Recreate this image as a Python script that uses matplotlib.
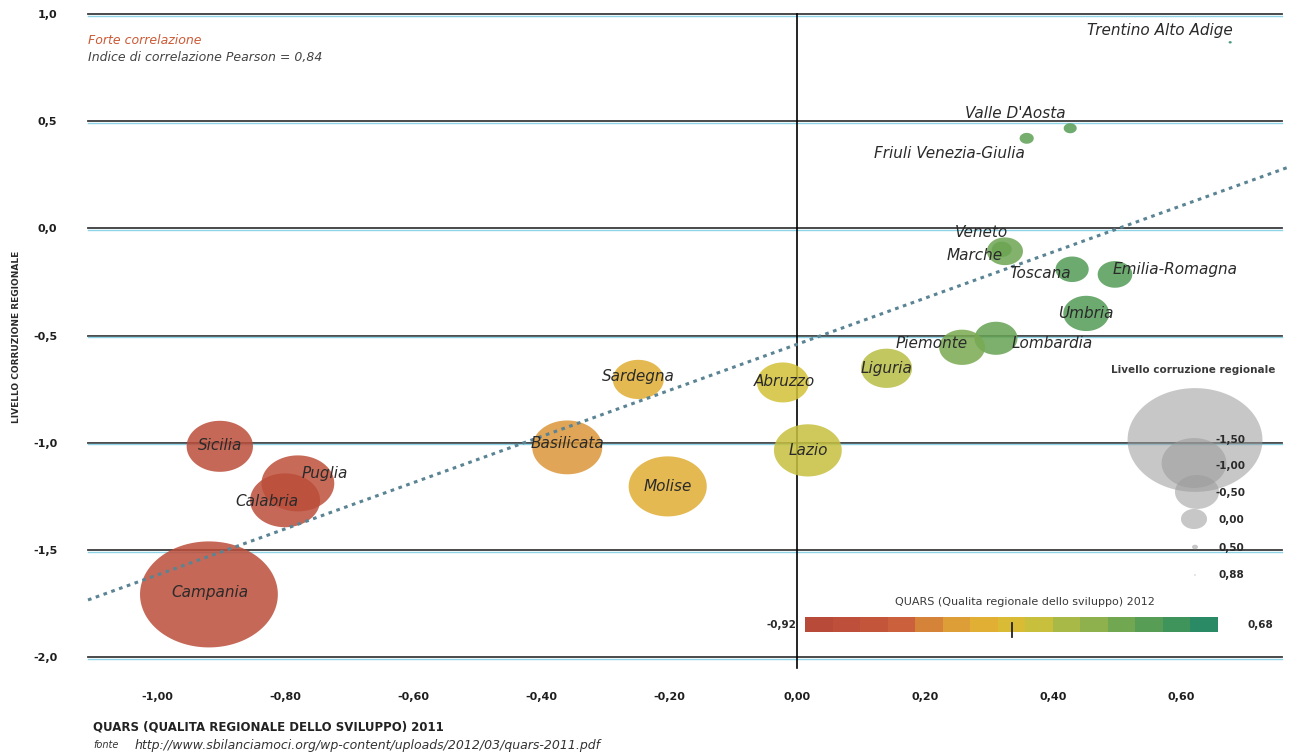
import numpy as np
import matplotlib
matplotlib.use("Agg")
import matplotlib.pyplot as plt
from matplotlib.path import Path
from matplotlib.colors import LinearSegmentedColormap, Normalize
import matplotlib.colorbar as mcolorbar

# ---------------- data ----------------
regioni = ["Trentino Alto Adige", "Valle D'Aosta", "Friuli Venezia-Giulia", "Veneto",
           "Marche", "Toscana", "Emilia-Romagna", "Umbria", "Lombardia", "Piemonte",
           "Liguria", "Abruzzo", "Lazio", "Sardegna", "Basilicata", "Molise",
           "Sicilia", "Puglia", "Calabria", "Campania"]
quars_2011 = [0.677, 0.427, 0.359, 0.32, 0.325, 0.43, 0.497, 0.452, 0.311, 0.258,
              0.14, -0.022, 0.017, -0.248, -0.359, -0.202, -0.902, -0.78, -0.80, -0.919]
corruzione = [0.868, 0.467, 0.42, -0.098, -0.107, -0.191, -0.215, -0.397, -0.513, -0.555,
              -0.653, -0.719, -1.036, -0.705, -1.022, -1.204, -1.017, -1.19, -1.269, -1.708]
dimensione = [0.1, 1.7, 2.0, 4.0, 13.0, 11.0, 12.0, 21.0, 18.5, 21.0,
              26.0, 27.0, 46.0, 26.0, 49.0, 61.0, 44.0, 53.0, 49.0, 190.0]
quars_2012 = [0.68, 0.45, 0.42, 0.38, 0.36, 0.47, 0.47, 0.47, 0.38, 0.31,
              0.05, -0.05, 0.0, -0.25, -0.40, -0.25, -0.85, -0.80, -0.85, -0.85]

legenda_valori = ["-1,50", "-1,00", "-0,50", "0,00", "0,50", "0,88"]
legenda_dim = [182.0, 42.0, 19.4, 6.8, 0.36, 0.03]

x_ticks = [-1.0, -0.8, -0.6, -0.4, -0.2, 0.0, 0.2, 0.4, 0.6]
x_labels = ["-1,00", "-0,80", "-0,60", "-0,40", "-0,20", "0,00", "0,20", "0,40", "0,60"]
y_ticks = [1.0, 0.5, 0.0, -0.5, -1.0, -1.5, -2.0]
y_labels = ["1,0", "0,5", "0,0", "-0,5", "-1,0", "-1,5", "-2,0"]
quars12_min, quars12_max = -0.92, 0.68
quars12_mark = -0.118

# ---------------- style ----------------
W, H = 1290, 756
def fx(px): return px / W
def fy(py): return 1 - py / H

label_offsets = {  # pixel offsets (dx, dy up)
    "Trentino Alto Adige": (-70, 12), "Valle D'Aosta": (-55, 15),
    "Friuli Venezia-Giulia": (-77, -15), "Veneto": (-20, 17), "Marche": (-30, -4),
    "Toscana": (-32, -4), "Emilia-Romagna": (60, 5), "Umbria": (0, 0),
    "Lombardia": (56, -5), "Piemonte": (-30, 4), "Liguria": (0, 0), "Abruzzo": (2, 1),
    "Lazio": (0, 0), "Sardegna": (0, 3), "Basilicata": (0, 4), "Molise": (0, 0),
    "Sicilia": (0, 1), "Puglia": (27, 10), "Calabria": (-18, -1), "Campania": (1, 2),
}

cmap = LinearSegmentedColormap.from_list("quars", [
    (0.0, "#b84a3a"), (0.2, "#c85a3c"), (0.33, "#dc9838"), (0.45, "#e2b432"),
    (0.55, "#d2c238"), (0.62, "#b2bc46"), (0.75, "#80ac50"), (0.88, "#4e9a56"),
    (1.0, "#2a8a66")])
norm = Normalize(quars12_min, quars12_max)

theta = np.linspace(0, 2 * np.pi, 120)
ellipse = Path(np.column_stack([1.3 * np.cos(theta), np.sin(theta)]), closed=True)
SIZE_K = 51.84

plt.rcParams["font.family"] = ["DejaVu Sans"]
fig = plt.figure(figsize=(W / 100, H / 100), dpi=100)
ax = fig.add_axes([fx(88), fy(657), (1282 - 88) / W, (657 - 14) / H])
ax.set_xlim(-1.108, 0.758)
ax.set_ylim(-2.0, 1.0)
for s in ax.spines.values():
    s.set_visible(False)

# gridlines (double: dark + cyan)
for y in y_ticks:
    ax.axhline(y, color="#3c3c3c", lw=1.3, zorder=1, clip_on=False)
    ax.axhline(y - 0.008, color="#8fd3e6", lw=1.0, zorder=1, clip_on=False)
ax.axvline(0, ymin=-0.017, ymax=1, color="black", lw=1.2, zorder=1, clip_on=False)

x = np.array(quars_2011)
y = np.array(corruzione)
ax.scatter(x, y, s=np.array(dimensione) * SIZE_K, marker=ellipse,
           c=quars_2012, cmap=cmap, norm=norm, alpha=0.85, edgecolors="none", zorder=2)

# trend line
coef = np.polyfit(x, y, 1)
xx = np.array([-1.108, 0.80])
ax.plot(xx, np.polyval(coef, xx), color="#5a8494", lw=2.2, linestyle=(0, (1.2, 1.5)),
        zorder=3, clip_on=False)

for name, xi, yi in zip(regioni, x, y):
    dx, dy = label_offsets[name]
    ax.annotate(name, (xi, yi), xytext=(dx, dy), textcoords="offset pixels",
                ha="center", va="center", fontsize=11, style="italic",
                color="#2a2a2a", zorder=4)

# ticks
ax.set_xticks(x_ticks)
ax.set_xticklabels(x_labels)
ax.set_yticks(y_ticks)
ax.set_yticklabels(y_labels)
ax.tick_params(axis="both", length=0, labelsize=8, labelcolor="#1e1e1e")
ax.tick_params(axis="x", pad=25)
ax.tick_params(axis="y", pad=22)
for lab in ax.get_xticklabels() + ax.get_yticklabels():
    lab.set_fontweight("bold")

# y axis label
fig.text(fx(17), fy(337), "LIVELLO CORRUZIONE REGIONALE", rotation=90, ha="center",
         va="center", fontsize=6.5, fontweight="bold", color="#2a2a2a")

# notes
fig.text(fx(88), fy(40), "Forte correlazione", fontsize=9, style="italic",
         color="#cc5a36", va="center")
fig.text(fx(88), fy(57), "Indice di correlazione Pearson = 0,84", fontsize=9,
         style="italic", color="#444444", va="center")

# size legend
leg_px = [(1195, 440), (1194, 463), (1197, 492), (1194, 519), (1195, 547), (1195, 575)]
leg_ax = [((px - 88) / 1194, (657 - py) / 643) for px, py in leg_px]
ax.scatter([p[0] for p in leg_ax], [p[1] for p in leg_ax], transform=ax.transAxes,
           s=np.array(legenda_dim) * SIZE_K, marker=ellipse, color="#9a9a9a",
           alpha=0.55, edgecolors="none", zorder=2)
fig.text(fx(1193), fy(370), "Livello corruzione regionale", ha="center", va="center",
         fontsize=7.5, fontweight="bold", color="#3a3a3a")
lab_py = [440, 466, 493, 520, 548, 575]
for lab, py in zip(legenda_valori, lab_py):
    fig.text(fx(1231), fy(py), lab, ha="center", va="center", fontsize=7.5,
             fontweight="bold", color="#2a2a2a")

# colour bar
cax = fig.add_axes([fx(805), fy(632), 413 / W, 15 / H])
cmap_d = LinearSegmentedColormap.from_list("quars_d", cmap(np.linspace(0, 1, 256)), N=15)
cb = mcolorbar.ColorbarBase(cax, cmap=cmap_d, norm=norm, orientation="horizontal")
cb.set_ticks([])
cb.outline.set_visible(False)
cax.axvline(quars12_mark, ymin=-0.35, ymax=0.6, color="#222222", lw=1.3, clip_on=False)
fig.text(fx(1025), fy(602), "QUARS (Qualita regionale dello sviluppo) 2012", ha="center",
         va="center", fontsize=8, color="#3a3a3a")
fig.text(fx(796), fy(625), "-0,92", ha="right", va="center", fontsize=7.5,
         fontweight="bold", color="#2a2a2a")
fig.text(fx(1248), fy(625), "0,68", ha="left", va="center", fontsize=7.5,
         fontweight="bold", color="#2a2a2a")

# bottom titles
fig.text(fx(93), fy(727), "QUARS (QUALITA REGIONALE DELLO SVILUPPO) 2011", fontsize=8.5,
         fontweight="bold", color="#222222", va="center")
fig.text(fx(93), fy(745), "fonte", fontsize=7, style="italic", color="#333333", va="center")
fig.text(fx(135), fy(745), "http://www.sbilanciamoci.org/wp-content/uploads/2012/03/quars-2011.pdf",
         fontsize=9, style="italic", color="#333333", va="center")

fig.savefig("out.png", dpi=100)
